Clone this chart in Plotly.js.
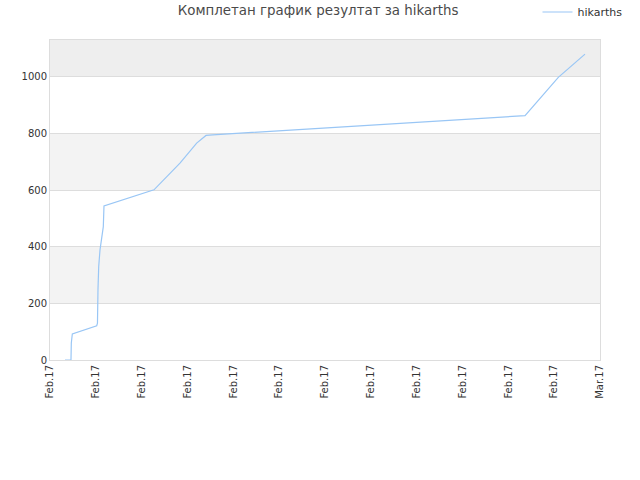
<!DOCTYPE html>
<html>
<head>
<meta charset="utf-8">
<script src="https://cdn.plot.ly/plotly-3.0.1.min.js"></script>
<style>html,body{margin:0;padding:0;background:#fff;}#chart{width:640px;height:480px;}</style>
</head>
<body>
<div id="chart"></div>
<script>
// Data: timestamps and cumulative score
var times = [
  "2017-02-01 18:19", "2017-02-02 01:39", "2017-02-02 02:02", "2017-02-02 03:16",
  "2017-02-03 09:04", "2017-02-03 10:00", "2017-02-03 10:38", "2017-02-03 11:31",
  "2017-02-03 13:06", "2017-02-03 15:10", "2017-02-03 17:08", "2017-02-03 17:58",
  "2017-02-06 07:03", "2017-02-07 14:48", "2017-02-08 11:12", "2017-02-08 22:38",
  "2017-02-09 06:48", "2017-02-25 04:24", "2017-02-26 21:03", "2017-02-28 05:41"
];
var scores = [
  0, 0, 60, 92,
  121, 130, 250, 330,
  389, 442, 471, 544,
  601, 695, 766, 793,
  795, 863, 998, 1080
];
var seriesName = "hikarths";
var chartTitle = "Комплетан график резултат за hikarths";
var yTicks = [0, 200, 400, 600, 800, 1000];
var bandRanges = [[200, 400], [600, 800], [1000, 1130]];
var bandColors = ["#f3f3f3", "#f3f3f3", "#eeeeee"];

function pad(n){return (n<10?"0":"")+n;}
function fmt(d){
  return d.getUTCFullYear()+"-"+pad(d.getUTCMonth()+1)+"-"+pad(d.getUTCDate())+" "+pad(d.getUTCHours())+":"+pad(d.getUTCMinutes())+":"+pad(d.getUTCSeconds());
}
var start = Date.UTC(2017,1,1), end = Date.UTC(2017,2,1);
var tickvals = [];
for (var k=0;k<=12;k++){ tickvals.push(fmt(new Date(start + (end-start)*k/12))); }

var shapes = bandRanges.map(function(r,i){
  return {type:"rect", xref:"paper", yref:"y", x0:0, x1:1, y0:r[0], y1:r[1],
          fillcolor:bandColors[i], line:{width:0}, layer:"below"};
});

var trace = {
  x: times, y: scores, type: "scatter", mode: "lines", name: seriesName,
  line: {color: "#99c6f5", width: 1.2}, showlegend: true
};

var layout = {
  width: 640, height: 480,
  margin: {l: 50, r: 40, t: 40, b: 120, autoexpand: false},
  paper_bgcolor: "#ffffff", plot_bgcolor: "#ffffff",
  font: {family: "DejaVu Sans, sans-serif", size: 10, color: "#333"},
  title: {text: chartTitle, x: 0.497, xanchor: "center", y: 0.988, yanchor: "top",
          font: {family: "DejaVu Sans, sans-serif", size: 13.4, color: "#4a4a4a"}},
  showlegend: true,
  legend: {x: 1.05, xanchor: "right", y: 1.0875, yanchor: "middle",
           font: {size: 11, color: "#333"}, bgcolor: "rgba(0,0,0,0)"},
  xaxis: {type: "date", range: [fmt(new Date(start)), fmt(new Date(end))],
          tickvals: tickvals, tickformat: "%b.%y", tickangle: -90,
          showgrid: false, zeroline: false, showline: true, linecolor: "#dddddd",
          mirror: true, ticks: "", tickfont: {size: 10, color: "#333"}},
  yaxis: {range: [0, 1130], tickvals: yTicks, showgrid: true, gridcolor: "#dddddd",
          zeroline: false, showline: true, linecolor: "#dddddd", mirror: true,
          ticks: "", tickfont: {size: 10, color: "#333"}},
  shapes: shapes
};

Plotly.newPlot("chart", [trace], layout, {displayModeBar: false, staticPlot: true});
</script>
</body>
</html>
